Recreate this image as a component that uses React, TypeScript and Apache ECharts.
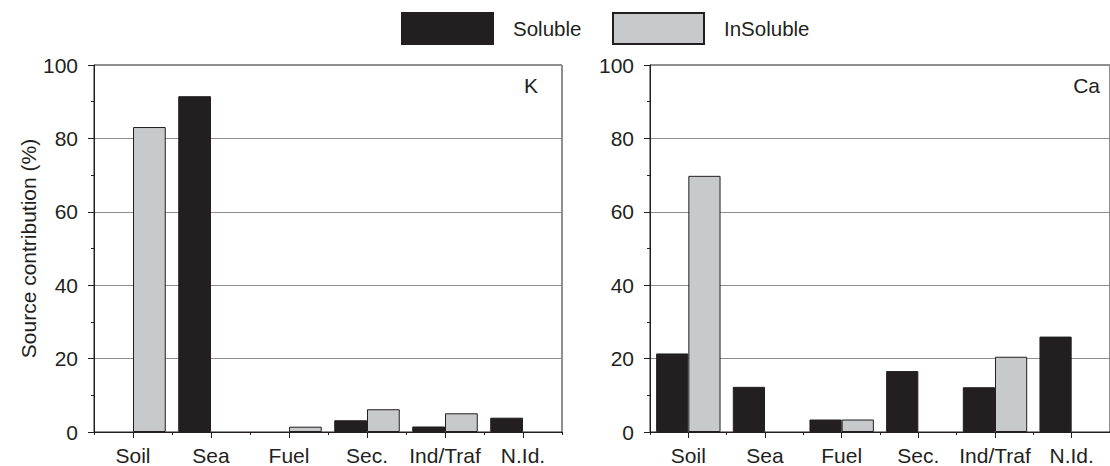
import React, { useEffect, useRef } from "react";
import * as echarts from "echarts";

const categories = ["Soil", "Sea", "Fuel", "Sec.", "Ind/Traf", "N.Id."];
const kSoluble = [null, 91.5, null, 3.2, 1.5, 3.9];
const kInsoluble = [83.1, null, 1.45, 6.2, 5.1, null];
const caSoluble = [21.4, 12.3, 3.4, 16.6, 12.2, 26.0];
const caInsoluble = [69.8, null, 3.4, null, 20.5, null];
const yTicks = [0, 20, 40, 60, 80, 100];

const FONT = "'Liberation Sans', Arial, Helvetica, sans-serif";
const INK = "#231f20";
const GREY = "#c8c9cb";
const FS = 21;

export default function App() {
  const ref = useRef<HTMLDivElement>(null);
  useEffect(() => {
    if (!ref.current) return;
    const chart = echarts.init(ref.current, undefined, { renderer: "svg" });
    const mainX = (gridIndex: number) => ({
      type: "category",
      gridIndex,
      data: categories,
      boundaryGap: true,
      axisLine: { show: true, lineStyle: { color: INK, width: 1 } },
      axisTick: { show: true, interval: 0, length: 3, alignWithLabel: false, lineStyle: { color: INK } },
      axisLabel: { show: true, interval: 0, color: INK, fontSize: FS, fontFamily: FONT, margin: 13 },
      splitLine: { show: false },
    });
    const overlayX = (gridIndex: number) => ({
      type: "category",
      gridIndex,
      data: categories,
      boundaryGap: true,
      position: "bottom",
      axisLine: { show: false },
      axisTick: { show: true, interval: 0, length: 6, alignWithLabel: true, lineStyle: { color: INK } },
      axisLabel: { show: false, interval: 0 },
      splitLine: { show: false },
    });
    const yAx = (gridIndex: number, name: string) => ({
      type: "value",
      gridIndex,
      min: yTicks[0],
      max: yTicks[yTicks.length - 1],
      interval: 20,
      name,
      nameLocation: "middle",
      nameGap: 55,
      nameTextStyle: { color: INK, fontSize: FS, fontFamily: FONT },
      axisLine: { show: true, lineStyle: { color: INK, width: 1 } },
      axisTick: { show: true, length: 6, lineStyle: { color: INK } },
      minorTick: { show: true, splitNumber: 2, length: 3, lineStyle: { color: INK } },
      axisLabel: { color: INK, fontSize: FS, fontFamily: FONT, margin: 16 },
      splitLine: { show: true, lineStyle: { color: "#8c8c8c", width: 1 } },
    });
    const solubleStyle = { color: INK, borderColor: INK, borderWidth: 1 };
    const insolubleStyle = { color: GREY, borderColor: INK, borderWidth: 1 };
    const legendBase = {
      orient: "horizontal",
      top: 12,
      padding: 0,
      itemWidth: 91,
      itemHeight: 31,
      icon: "rect",
      textStyle: { color: INK, fontSize: 20.5, fontFamily: FONT, padding: [0, 0, 0, 15] },
    };
    chart.setOption({
      animation: false,
      backgroundColor: "#ffffff",
      textStyle: { fontFamily: FONT },
      legend: [
        { ...legendBase, left: 401, data: ["Soluble"] },
        { ...legendBase, left: 612, data: ["InSoluble"] },
      ],
      grid: [
        { left: 94, top: 65, width: 468, height: 368, show: true, borderColor: INK, borderWidth: 1, backgroundColor: "transparent" },
        { left: 650, top: 65, width: 471, height: 368, show: true, borderColor: INK, borderWidth: 1, backgroundColor: "transparent" },
      ],
      xAxis: [mainX(0), overlayX(0), mainX(1), overlayX(1)],
      yAxis: [yAx(0, "Source contribution (%)"), yAx(1, "")],
      series: [
        { type: "bar", name: "Soluble", xAxisIndex: 0, yAxisIndex: 0, data: kSoluble, itemStyle: solubleStyle, barGap: "0%", barCategoryGap: "16%" },
        { type: "bar", name: "InSoluble", xAxisIndex: 0, yAxisIndex: 0, data: kInsoluble, itemStyle: insolubleStyle, barGap: "0%", barCategoryGap: "16%" },
        { type: "bar", name: "Soluble", xAxisIndex: 2, yAxisIndex: 1, data: caSoluble, itemStyle: solubleStyle, barGap: "0%", barCategoryGap: "16%" },
        { type: "bar", name: "InSoluble", xAxisIndex: 2, yAxisIndex: 1, data: caInsoluble, itemStyle: insolubleStyle, barGap: "0%", barCategoryGap: "16%" },
      ],
      graphic: [
        { type: "text", x: 538, y: 85, style: { text: "K", fill: INK, fontSize: FS, fontFamily: FONT, align: "right", verticalAlign: "middle" } },
        { type: "text", x: 1100, y: 85, style: { text: "Ca", fill: INK, fontSize: FS, fontFamily: FONT, align: "right", verticalAlign: "middle" } },
      ],
    });
    return () => chart.dispose();
  }, []);
  return (
    <div
      ref={ref}
      style={{ position: "absolute", left: 0, top: 0, width: 1110, height: 466 }}
    />
  );
}
